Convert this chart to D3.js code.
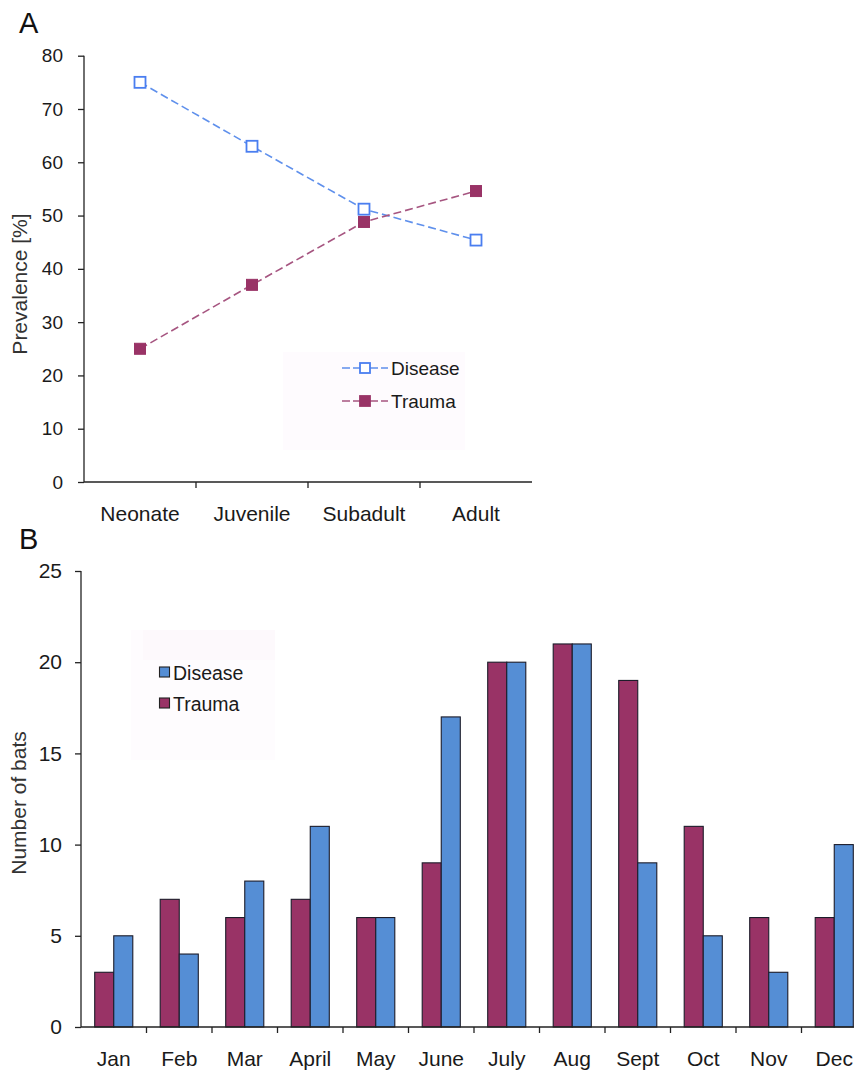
<!DOCTYPE html>
<html>
<head>
<meta charset="utf-8">
<script src="https://cdn.jsdelivr.net/npm/d3@7"></script>
<style>
  html, body { margin: 0; padding: 0; background: #fff; }
  svg { display: block; font-family: "Liberation Sans", Arial, sans-serif; }
</style>
</head>
<body>
<svg id="chart" width="854" height="1071"></svg>
<script>
// ---------- Data ----------
const stages = ["Neonate", "Juvenile", "Subadult", "Adult"];
const diseasePrev = [75, 63, 51.2, 45.4];
const traumaPrev = [25, 37, 48.8, 54.6];
const prevTicks = [0, 10, 20, 30, 40, 50, 60, 70, 80];

const months = ["Jan", "Feb", "Mar", "April", "May", "June", "July", "Aug", "Sept", "Oct", "Nov", "Dec"];
const traumaCount = [3, 7, 6, 7, 6, 9, 20, 21, 19, 11, 6, 6];
const diseaseCount = [5, 4, 8, 11, 6, 17, 20, 21, 9, 5, 3, 10];
const countTicks = [0, 5, 10, 15, 20, 25];

const seriesNames = ["Disease", "Trauma"];

// ---------- Styles ----------
const blue = "#4a7ef0";
const blueLine = "#5f90ec";
const maroon = "#993366";
const barBlue = "#558ed5";
const textCol = "#1a1a1a";

const svg = d3.select("#chart");

// ================= Panel A =================
const xA = d3.scaleBand().domain(stages).range([84, 532]);
const yA = d3.scaleLinear().domain([0, 80]).range([482, 55.7]);
const gA = svg.append("g");

// legend background (faint)
gA.append("rect").attr("x", 283).attr("y", 352).attr("width", 182).attr("height", 98)
  .attr("fill", "#fefbfe");

// y axis
const yAxisA = gA.append("g").attr("transform", "translate(84,0)")
  .call(d3.axisLeft(yA).tickValues(prevTicks).tickSize(6).tickPadding(15).tickFormat(d3.format("d")));
yAxisA.select(".domain").attr("stroke", "#222").attr("stroke-width", 1.3).attr("d", "M0," + yA(80) + "V" + yA(0));
yAxisA.selectAll(".tick line").attr("stroke", "#222").attr("stroke-width", 1.3);
yAxisA.selectAll("text").attr("font-size", 19).attr("fill", textCol).attr("font-family", "Liberation Sans, Arial, sans-serif");

// x axis
const xAxisA = gA.append("g").attr("transform", "translate(0,482)")
  .call(d3.axisBottom(xA).tickSize(0).tickPadding(24));
xAxisA.select(".domain").attr("stroke", "#222").attr("stroke-width", 1.3).attr("d", "M84,0H532");
xAxisA.selectAll("text").attr("font-size", 21).attr("fill", textCol).attr("font-family", "Liberation Sans, Arial, sans-serif");
gA.selectAll(".xtickA").data(stages.slice(1)).enter().append("line")
  .attr("x1", d => xA(d)).attr("x2", d => xA(d)).attr("y1", 482).attr("y2", 488)
  .attr("stroke", "#222").attr("stroke-width", 1.3);

const cx = d => xA(d) + xA.bandwidth() / 2;
const lineGen = d3.line().x((d, i) => cx(stages[i])).y(d => yA(d));

gA.append("path").datum(diseasePrev).attr("d", lineGen).attr("fill", "none")
  .attr("stroke", blueLine).attr("stroke-width", 1.6).attr("stroke-dasharray", "8,4");
gA.append("path").datum(traumaPrev).attr("d", lineGen).attr("fill", "none")
  .attr("stroke", "#a65580").attr("stroke-width", 1.6).attr("stroke-dasharray", "8,4");

const ms = 11;
gA.selectAll(".dm").data(diseasePrev).enter().append("rect")
  .attr("x", (d, i) => cx(stages[i]) - ms / 2).attr("y", d => yA(d) - ms / 2)
  .attr("width", ms).attr("height", ms).attr("fill", "#fff").attr("stroke", blue).attr("stroke-width", 1.8);
gA.selectAll(".tm").data(traumaPrev).enter().append("rect")
  .attr("x", (d, i) => cx(stages[i]) - ms / 2).attr("y", d => yA(d) - ms / 2)
  .attr("width", ms).attr("height", ms).attr("fill", maroon).attr("stroke", maroon).attr("stroke-width", 1);

// legend A
const legA = [
  { name: seriesNames[0], y: 368, line: blueLine, stroke: blue, fill: "#fff" },
  { name: seriesNames[1], y: 401, line: "#a65580", stroke: maroon, fill: maroon }
];
legA.forEach(l => {
  gA.append("line").attr("x1", 342).attr("x2", 388).attr("y1", l.y).attr("y2", l.y)
    .attr("stroke", l.line).attr("stroke-width", 1.6).attr("stroke-dasharray", "8,3,8,4,2,3");
  gA.append("rect").attr("x", 365 - 5).attr("y", l.y - 5).attr("width", 10).attr("height", 10)
    .attr("fill", l.fill).attr("stroke", l.stroke).attr("stroke-width", 1.8);
  gA.append("text").attr("x", 391).attr("y", l.y + 7).attr("font-size", 19).attr("fill", textCol).text(l.name);
});

// y title A
gA.append("text").attr("transform", "translate(27,284) rotate(-90)").attr("text-anchor", "middle")
  .attr("font-size", 21).attr("fill", "#333").text("Prevalence [%]");

// panel letter
svg.append("text").attr("x", 19).attr("y", 33).attr("font-size", 29).attr("fill", "#111").text("A");

// ================= Panel B =================
const gB = svg.append("g");
const xB = d3.scaleBand().domain(months).range([81, 867]);
const xSub = d3.scaleBand().domain(["Trauma", "Disease"]).range([0, xB.bandwidth()]).paddingInner(0).paddingOuter(0.72);
const yB = d3.scaleLinear().domain([0, 25]).range([1027, 571]);

// legend background (faint)
gB.append("rect").attr("x", 131).attr("y", 630).attr("width", 144).attr("height", 130).attr("fill", "#fefcfe");
gB.append("rect").attr("x", 143).attr("y", 630).attr("width", 132).attr("height", 30).attr("fill", "#fdf9fc");

// y axis
const yAxisB = gB.append("g").attr("transform", "translate(81,0)")
  .call(d3.axisLeft(yB).tickValues(countTicks).tickSize(6).tickPadding(13).tickFormat(d3.format("d")));
yAxisB.select(".domain").attr("stroke", "#222").attr("stroke-width", 1.3).attr("d", "M0," + yB(25) + "V" + yB(0));
yAxisB.selectAll(".tick line").attr("stroke", "#222").attr("stroke-width", 1.3);
yAxisB.selectAll("text").attr("font-size", 21).attr("fill", textCol).attr("font-family", "Liberation Sans, Arial, sans-serif");

// bars
const groups = gB.selectAll(".grp").data(months).enter().append("g")
  .attr("transform", d => "translate(" + xB(d) + ",0)");
groups.append("rect")
  .attr("x", xSub("Trauma")).attr("width", xSub.bandwidth())
  .attr("y", (d, i) => yB(traumaCount[i])).attr("height", (d, i) => yB(0) - yB(traumaCount[i]))
  .attr("fill", maroon).attr("stroke", "#1c1c2a").attr("stroke-width", 1.1);
groups.append("rect")
  .attr("x", xSub("Disease")).attr("width", xSub.bandwidth())
  .attr("y", (d, i) => yB(diseaseCount[i])).attr("height", (d, i) => yB(0) - yB(diseaseCount[i]))
  .attr("fill", barBlue).attr("stroke", "#1c1c2a").attr("stroke-width", 1.1);

// x axis
const xAxisB = gB.append("g").attr("transform", "translate(0,1027)")
  .call(d3.axisBottom(xB).tickSize(0).tickPadding(24));
xAxisB.select(".domain").attr("stroke", "#222").attr("stroke-width", 1.3).attr("d", "M81,0H867");
xAxisB.selectAll("text").attr("font-size", 21).attr("fill", textCol).attr("font-family", "Liberation Sans, Arial, sans-serif");
gB.selectAll(".xtickB").data(months.slice(1)).enter().append("line")
  .attr("x1", d => xB(d)).attr("x2", d => xB(d)).attr("y1", 1027).attr("y2", 1033)
  .attr("stroke", "#222").attr("stroke-width", 1.3);

// legend B
const legB = [
  { name: seriesNames[0], y: 667, fill: barBlue },
  { name: seriesNames[1], y: 698, fill: maroon }
];
legB.forEach(l => {
  gB.append("rect").attr("x", 159.5).attr("y", l.y).attr("width", 10).attr("height", 10)
    .attr("fill", l.fill).attr("stroke", "#222").attr("stroke-width", 1.1);
  gB.append("text").attr("x", 173).attr("y", l.y + 12.5).attr("font-size", 19.5).attr("fill", textCol).text(l.name);
});

// y title B
gB.append("text").attr("transform", "translate(26,803) rotate(-90)").attr("text-anchor", "middle")
  .attr("font-size", 21).attr("fill", "#333").text("Number of bats");

svg.append("text").attr("x", 19).attr("y", 549).attr("font-size", 29).attr("fill", "#111").text("B");
</script>
</body>
</html>
